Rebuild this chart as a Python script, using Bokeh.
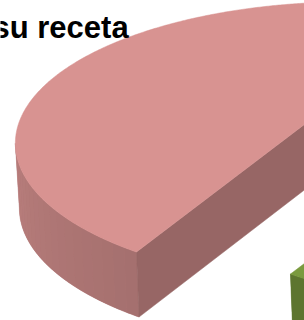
import numpy as np
from bokeh.plotting import figure
from bokeh.models import Range1d
from bokeh.core.properties import value
from bokeh.embed import file_html
from bokeh.resources import INLINE

# ---- data ----
title_text = "su receta"
categories = ["Serie 1", "Serie 2", "Serie 3"]
shares = [28, 22, 50]                      # percent of the pie
top_colors = ["#4F81BD", "#7A9A3E", "#D89391"]

# ---- layout / style of the 3D pie ----
FIRST_ANGLE = 62.8          # degrees, slices run clockwise from here
PX, PY = 350.0, 89.0        # projected pie centre (page px)
A, B, K = 310.0, 121.0, 0.38
DEPTH = 65.0
SHRINK = 0.988
explode = [(60.0, -10.0), (154.0, 22.0), (0.0, 0.0)]
SIL = np.degrees(np.arcsin(K))          # silhouette offset


def rim(theta, ox, oy, bottom=False):
    t = np.radians(theta)
    u, v = np.cos(t), np.sin(t)
    d = 1 + K * v
    x = PX + A * u / d
    y = PY - B * v / d
    if bottom:
        x = PX + SHRINK * (x - PX)
        y = y + DEPTH
    return x + ox, y + oy


def shade(hexcol, f):
    h = hexcol.lstrip("#")
    r, g, b = (int(h[i:i + 2], 16) for i in (0, 2, 4))
    return "#%02x%02x%02x" % (int(r * f), int(g * f), int(b * f))


def wall_factor(theta):
    th = theta % 360
    return float(np.interp(th, [200, 243, 300, 340], [0.87, 0.765, 0.78, 0.85]))


p = figure(width=304, height=320, x_range=Range1d(0, 304), y_range=Range1d(320, 0),
           output_backend="svg", toolbar_location=None, min_border=0,
           x_axis_location=None, y_axis_location=None)
p.grid.visible = False
p.outline_line_color = None
p.background_fill_color = "white"
p.border_fill_color = "white"

total = float(sum(shares))
start = FIRST_ANGLE
slices = []
for cat, s, col, ex in zip(categories, shares, top_colors, explode):
    span = 360.0 * s / total
    slices.append((start - span, start, col, ex))
    start -= span

for t0, t1, col, (ox, oy) in slices:
    # outer wall (front-facing part)
    front_lo, front_hi = 180 + SIL, 360 - SIL
    for shift in (-360, 0, 360):
        a0 = max(t0, front_lo + shift)
        a1 = min(t1, front_hi + shift)
        if a1 <= a0:
            continue
        th = np.linspace(a0, a1, 200)
        xt, yt = rim(th, ox, oy)
        xb, yb = rim(th, ox, oy, True)
        mid = shade(col, wall_factor(0.5 * (a0 + a1)))
        p.patch(np.concatenate([xt, xb[::-1]]), np.concatenate([yt, yb[::-1]]),
                fill_color=mid, line_color=mid, line_width=0.5)
        edges = np.linspace(a0, a1, max(2, int((a1 - a0) / 2.0) + 1))
        xs_w, ys_w, cs_w = [], [], []
        for ta, tb in zip(edges[:-1], edges[1:]):
            seg = np.linspace(ta, tb, 6)
            sx, sy = rim(seg, ox, oy)
            bx, by = rim(seg, ox, oy, True)
            xs_w.append(list(np.concatenate([sx, bx[::-1]])))
            ys_w.append(list(np.concatenate([sy, by[::-1]])))
            cs_w.append(shade(col, wall_factor(0.5 * (ta + tb))))
        p.patches(xs_w, ys_w, fill_color=cs_w, line_color=None)

    # radial walls (front-facing only)
    for te, front in ((t0, np.cos(np.radians(t0)) > 0), (t1, np.cos(np.radians(t1)) < 0)):
        if front:
            xr, yr = rim(te, ox, oy)
            xrb, yrb = rim(te, ox, oy, True)
            p.patch([PX + ox, xr, xrb, PX + ox], [PY + oy, yr, yrb, PY + oy + DEPTH],
                    fill_color=shade(col, 0.70), line_color=shade(col, 0.70), line_width=0.5)

    # top face
    th = np.linspace(t0, t1, 400)
    xt, yt = rim(th, ox, oy)
    p.patch(np.concatenate([[PX + ox], xt]), np.concatenate([[PY + oy], yt]),
            fill_color=col, line_color=col, line_width=0.5)

p.text(x=[-8], y=[27], text=[title_text], text_font=value("Liberation Sans"),
       text_font_style="bold", text_font_size="31px", text_color="black",
       text_baseline="alphabetic", text_align="left")

open("out.html", "w").write(file_html(p, INLINE))
